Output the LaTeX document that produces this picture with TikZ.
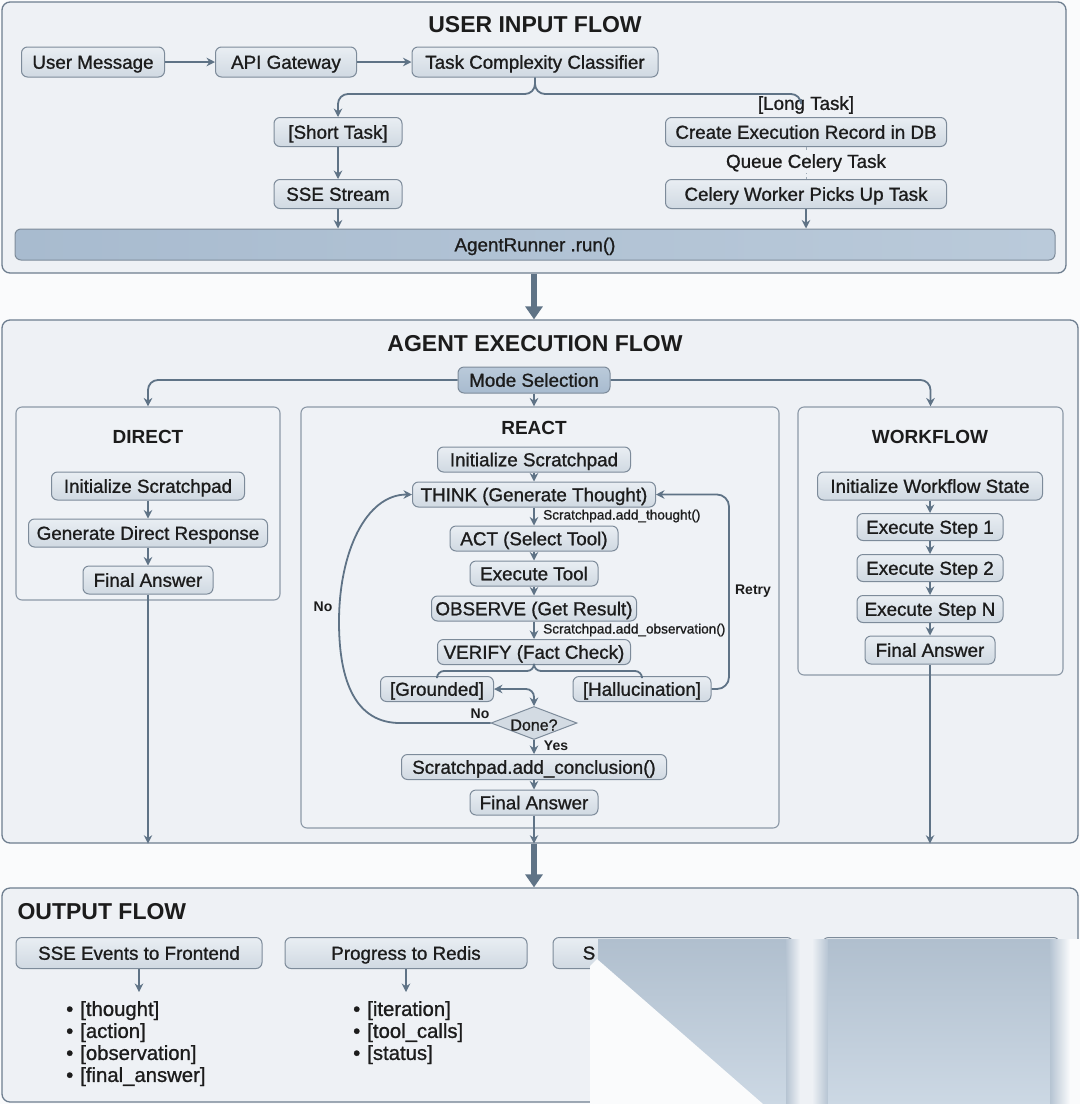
\documentclass[tikz,border=0pt]{standalone}
\usepackage{fontspec}
\setmainfont{Liberation Sans}
\newfontfamily\medfont{Liberation Sans}[FakeBold=1.0]
\usetikzlibrary{arrows.meta,shapes.geometric}
\definecolor{bg}{HTML}{FAFBFC}
\definecolor{panelfill}{HTML}{EEF1F5}
\definecolor{panelline}{HTML}{6E7E8F}
\definecolor{subfill}{HTML}{EFF2F6}
\definecolor{subline}{HTML}{8C99A7}
\definecolor{nodetop}{HTML}{E9EEF3}
\definecolor{nodebot}{HTML}{D0D9E2}
\definecolor{nodeline}{HTML}{7D8B9A}
\definecolor{arrowc}{HTML}{5F7386}
\definecolor{txt}{HTML}{1C1C1C}
\definecolor{darkA}{HTML}{A8BBCF}
\definecolor{darkB}{HTML}{BACADA}
\definecolor{dmd}{HTML}{D3DBE3}
\definecolor{artA}{HTML}{B0BFCE}
\definecolor{artB}{HTML}{CCD8E4}
\tikzset{
  panel/.style={draw=panelline, line width=1.3pt, fill=panelfill, rounded corners=8pt, inner sep=0pt},
  subpanel/.style={draw=subline, line width=1.1pt, fill=subfill, rounded corners=6pt, inner sep=0pt},
  box/.style={draw=nodeline, line width=1pt, top color=nodetop, bottom color=nodebot, rounded corners=6pt, inner sep=0pt, text=txt, font=\medfont\fontsize{18.8}{18.8}\selectfont, text height=13.5pt, text depth=0pt},
  wh/.style 2 args={minimum width=#1pt, minimum height=#2pt},
  conn/.style={draw=arrowc, line width=1.8pt, -{Stealth[length=8.5pt,width=8.5pt]}},
  plain/.style={draw=arrowc, line width=1.8pt},
  bigarrow/.style={draw=arrowc, line width=6pt, -{Triangle[length=13pt,width=17pt]}},
  ttl/.style={font=\bfseries\fontsize{23}{23}\selectfont, text=txt},
  subttl/.style={font=\bfseries\fontsize{19}{19}\selectfont, text=txt},
  lbl/.style={font=\bfseries\fontsize{14}{14}\selectfont, text=txt},
  smalllbl/.style={font=\medfont\fontsize{13.6}{13.6}\selectfont, text=txt, anchor=west, inner sep=0pt},
  plaintxt/.style={font=\medfont\fontsize{18.8}{18.8}\selectfont, text=txt},
  listtxt/.style={font=\medfont\fontsize{20.3}{22}\selectfont, text=txt, align=left, anchor=north west, inner xsep=2pt, inner ysep=12pt}
}
\newcommand{\bul}{•\hspace{7pt}}
\begin{document}
\begin{tikzpicture}[x=1pt,y=-1pt]
\fill[bg] (0,0) rectangle (1080,1104);
\useasboundingbox (0,0) rectangle (1080,1104);

% ---------------- panels ----------------
\node[panel, wh={1064}{271}] (p1) at (534,137.5) {};
\node[panel, wh={1076}{523}] (p2) at (540,581.5) {};
\node[panel, wh={1076}{214}] (p3) at (540,995) {};

% ---------------- USER INPUT FLOW ----------------
\node[ttl] (t1) at (535,25) {USER INPUT FLOW};
\node[box, wh={143}{30}] (um) at (93,62) {User Message};
\node[box, wh={141}{30}] (api) at (286,62) {API Gateway};
\node[box, wh={246}{30}] (cls) at (535,62) {Task Complexity Classifier};
\node[box, wh={128}{29}] (short) at (338,132) {[Short Task]};
\node[box, wh={128}{29}] (sse) at (338,194) {SSE Stream};
\node[box, wh={281}{29}] (create) at (806,132) {Create Execution Record in DB};
\node[box, wh={281}{29}] (celery) at (806,194) {Celery Worker Picks Up Task};
\node[box, wh={1040}{31}, left color=darkA, right color=darkB] (runner) at (535,244.5) {AgentRunner .run()};
\coordinate (lt) at (801,99);
\node[plaintxt] (longlbl) at (806,105) {[Long Task]};

\draw[conn] (um) -- (api);
\draw[conn] (api) -- (cls);
\draw[conn, rounded corners=10pt] (cls.south) -- (535,94) -| (short.north);
\draw[plain, rounded corners=10pt] (cls.south) -- (535,94) -| (lt);
\draw[conn] (short) -- (sse);
\draw[conn] (sse.south) -- (sse.south |- runner.north);
\draw[draw=arrowc!60, line width=1pt, dashed] (create.south) -- (celery.north);
\node[plaintxt, fill=panelfill, inner sep=1pt] (queue) at (806,163) {Queue Celery Task};
\draw[conn] (celery.south) -- (celery.south |- runner.north);

\draw[bigarrow] (p1.south) -- (p1.south |- p2.north);

% ---------------- AGENT EXECUTION FLOW ----------------
\node[ttl] (t2) at (535,344) {AGENT EXECUTION FLOW};
\node[subpanel, wh={264}{193}] (dbox) at (148,503.5) {};
\node[subpanel, wh={478}{421}] (rbox) at (540,617.5) {};
\node[subpanel, wh={265}{268}] (wbox) at (930.5,541) {};
\node[box, wh={152}{26}, top color=darkB, bottom color=darkA] (mode) at (534,380) {Mode Selection};

\draw[conn, rounded corners=10pt] (mode.west) -| (dbox.north);
\draw[conn, rounded corners=10pt] (mode.east) -| (wbox.north);
\draw[conn] (mode.south) -- (mode.south |- rbox.north);

% DIRECT
\node[subttl] (dt) at (148,437) {DIRECT};
\node[box, wh={193}{28}] (dinit) at (148,486) {Initialize Scratchpad};
\node[box, wh={239}{28}] (dgen) at (148,533) {Generate Direct Response};
\node[box, wh={130}{28}] (dfinal) at (148,580) {Final Answer};
\draw[conn] (dinit) -- (dgen);
\draw[conn] (dgen) -- (dfinal);
\draw[conn] (dfinal.south) -- (dfinal.south |- p2.south);

% WORKFLOW
\node[subttl] (wt) at (930,437) {WORKFLOW};
\node[box, wh={225}{28}] (winit) at (930,486) {Initialize Workflow State};
\node[box, wh={146}{27}] (ws1) at (930,527) {Execute Step 1};
\node[box, wh={146}{27}] (ws2) at (930,568) {Execute Step 2};
\node[box, wh={146}{27}] (wsn) at (930,609) {Execute Step N};
\node[box, wh={130}{28}] (wfinal) at (930,650) {Final Answer};
\draw[conn] (winit) -- (ws1);
\draw[conn] (ws1) -- (ws2);
\draw[conn] (ws2) -- (wsn);
\draw[conn] (wsn) -- (wfinal);
\draw[conn] (wfinal.south) -- (wfinal.south |- p2.south);

% REACT
\node[subttl] (rt) at (534,428) {REACT};
\node[box, wh={193}{25}] (rinit) at (534,459.5) {Initialize Scratchpad};
\node[box, wh={243}{25}] (think) at (534,494.5) {THINK (Generate Thought)};
\node[box, wh={168}{25}] (act) at (534,538.5) {ACT (Select Tool)};
\node[box, wh={128}{25}] (exec) at (534,573.5) {Execute Tool};
\node[box, wh={205}{25}] (obs) at (534,608.5) {OBSERVE (Get Result)};
\node[box, wh={193}{25}] (verify) at (534,652) {VERIFY (Fact Check)};
\node[box, wh={113}{25}] (grounded) at (437,689) {[Grounded]};
\node[box, wh={138}{25}] (halluc) at (642,689) {[Hallucination]};
\node[diamond, draw=nodeline, line width=1pt, fill=dmd, minimum width=86pt, minimum height=33pt, inner sep=0pt] (done) at (534,723) {};
\node[font=\medfont\fontsize{16}{16}\selectfont, text=txt] (donetxt) at (534,725) {Done?};
\node[box, wh={265}{25}] (concl) at (534,767) {Scratchpad.add\_conclusion()};
\node[box, wh={128}{25}] (rfinal) at (534,802.5) {Final Answer};

\node[smalllbl] (lthought) at (543,516) {Scratchpad.add\_thought()};
\node[smalllbl] (lobs) at (543,630) {Scratchpad.add\_observation()};
\node[lbl] (lretry) at (753,591) {Retry};
\node[lbl] (lno1) at (323,607) {No};
\node[lbl] (lno2) at (480,714) {No};
\node[lbl] (lyes) at (556,746) {Yes};

\draw[conn] (rinit) -- (think);
\draw[conn] (think) -- (act);
\draw[conn] (act) -- (exec);
\draw[conn] (exec) -- (obs);
\draw[conn] (obs) -- (verify);
\draw[plain, rounded corners=7pt] (verify.south) -- (534,671) -| (grounded.north);
\draw[plain, rounded corners=7pt] (verify.south) -- (534,671) -| (halluc.north);
\coordinate (rr) at (729,600);
\draw[conn, rounded corners=12pt] (halluc.east) -| (rr) |- (think.east);
\draw[draw=arrowc, line width=1.8pt, {Stealth[length=8.5pt,width=8.5pt]}-{Stealth[length=8.5pt,width=8.5pt]}, rounded corners=8pt] (grounded.east) -| (done.north);
\draw[conn] (done.west) -- (400,723) .. controls (356,723) and (339,682) .. (339,622) .. controls (339,552) and (366,494.5) .. (think.west);
\draw[conn] (done.south) -- (concl.north);
\draw[conn] (concl) -- (rfinal);
\draw[conn] (rfinal.south) -- (rfinal.south |- p2.south);

\draw[bigarrow] (rfinal.south |- p2.south) -- (rfinal.south |- p3.north);

% ---------------- OUTPUT FLOW ----------------
\node[ttl, anchor=west] (t3) at (14,912) {OUTPUT FLOW};
\node[box, wh={246}{31}] (ev) at (139,953) {SSE Events to Frontend};
\node[box, wh={242}{31}] (prog) at (406,953) {Progress to Redis};
\node[box, wh={240}{31}] (s3) at (673,953) {};
\node[box, wh={237}{31}] (s4) at (941,953) {};
\node[plaintxt] (s3txt) at (589,953) {S};
\node[listtxt] (l1) at (64,989) {\bul[thought]\\\bul[action]\\\bul[observation]\\\bul[final\_answer]};
\node[listtxt] (l2) at (351,989) {\bul[iteration]\\\bul[tool\_calls]\\\bul[status]};
\coordinate (a1) at (139,992);
\coordinate (a2) at (406,992);
\draw[conn] (ev.south) -- (a1);
\draw[conn] (prog.south) -- (a2);

% ---------------- image artefact (lower right) ----------------
\shade[top color=artA, bottom color=artB] (598,939) rectangle (786,1104);
\shade[left color=artA!80!artB, right color=panelfill] (786,939) rectangle (800,1104);
\fill[panelfill] (800,939) rectangle (812,1104);
\shade[left color=panelfill, right color=artA!80!artB] (812,939) rectangle (828,1104);
\shade[top color=artA, bottom color=artB] (828,939) rectangle (1050,1104);
\shade[left color=artA!80!artB, right color=bg] (1050,939) rectangle (1070,1104);
\fill[bg] (1070,939) rectangle (1080,1104);
\fill[white!70!panelfill] (597,959) -- (763,1104) -- (590,1104) -- (590,966) -- cycle;
\end{tikzpicture}
\end{document}
